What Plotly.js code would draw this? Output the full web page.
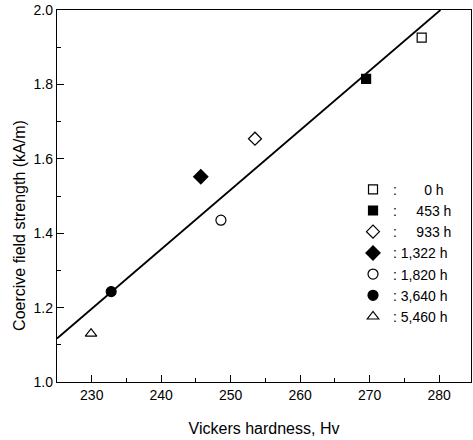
<!DOCTYPE html>
<html>
<head>
<meta charset="utf-8">
<script src="https://cdn.plot.ly/plotly-3.0.1.min.js"></script>
<style>html,body{margin:0;padding:0;background:#fff;}#chart{width:473px;height:440px;}</style>
</head>
<body>
<div id="chart"></div>
<script>
// Data
var labels = [":\u2007\u2007\u2007\u20080 h", ":\u2007\u2007\u2008453 h", ":\u2007\u2007\u2008933 h", ": 1,322 h", ": 1,820 h", ": 3,640 h", ": 5,460 h"];
var hardness = [277.5, 269.5, 253.5, 245.7, 248.6, 232.8, 229.9];
var coercive = [1.926, 1.815, 1.654, 1.552, 1.435, 1.243, 1.130];
var symbols = ["square-open", "square", "diamond-open", "diamond", "circle-open", "circle", "triangle-up-open"];
var sizes = [9, 9, 10, 11, 10, 10, 10];
var fitX = [225, 280.2];
var fitY = [1.117, 2.0];
var xTicks = [230, 240, 250, 260, 270, 280];
var yTicks = [1.0, 1.2, 1.4, 1.6, 1.8, 2.0];
var xTitle = "Vickers hardness, Hv";
var yTitle = "Coercive field strength (kA/m)";

var FONT = "Liberation Sans Narrow, Arial Narrow, Liberation Sans, Arial, sans-serif";
var traces = [];
traces.push({x: fitX, y: fitY, mode: "lines", line: {color: "#000", width: 1.8}, showlegend: false, hoverinfo: "skip"});
for (var i = 0; i < labels.length; i++) {
  traces.push({
    x: [hardness[i]], y: [coercive[i]], mode: "markers", name: labels[i],
    marker: {symbol: symbols[i], size: sizes[i], color: "#000", line: {color: "#000", width: 1.2}}
  });
}
var axisCommon = {showline: true, linecolor: "#000", linewidth: 1.2, mirror: true, ticks: "inside", ticklen: 7, tickwidth: 1, tickcolor: "#000", showgrid: false, zeroline: false, tickfont: {family: FONT, size: 14, color: "#000"}};
var layout = {
  width: 473, height: 440,
  margin: {l: 57, r: 2, t: 10, b: 58},
  paper_bgcolor: "#fff", plot_bgcolor: "#fff",
  font: {family: FONT, color: "#000"},
  xaxis: Object.assign({}, axisCommon, {range: [225, 284.6], tickvals: xTicks, ticktext: xTicks.map(String),
    minor: {ticks: "inside", ticklen: 4, dtick: 5, tick0: 225, tickcolor: "#000"},
    title: {text: xTitle, font: {family: FONT, size: 16, color: "#000"}, standoff: 20}}),
  yaxis: Object.assign({}, axisCommon, {range: [1.0, 2.0], tickvals: yTicks, ticktext: yTicks.map(function(v){return v.toFixed(1);}),
    minor: {ticks: "inside", ticklen: 4, dtick: 0.1, tick0: 1.0, tickcolor: "#000"}}),
  annotations: [{text: yTitle, textangle: -90, xref: "paper", yref: "paper", x: -0.089, y: 0.42, xanchor: "center", yanchor: "middle", showarrow: false, font: {family: FONT, size: 16, color: "#000"}}],
  legend: {x: 0.715, y: 0.56, xanchor: "left", yanchor: "top", bgcolor: "rgba(0,0,0,0)", font: {family: FONT, size: 14, color: "#000"}, tracegroupgap: 0},
  showlegend: true
};
Plotly.newPlot("chart", traces, layout, {staticPlot: true, displayModeBar: false});
</script>
</body>
</html>
